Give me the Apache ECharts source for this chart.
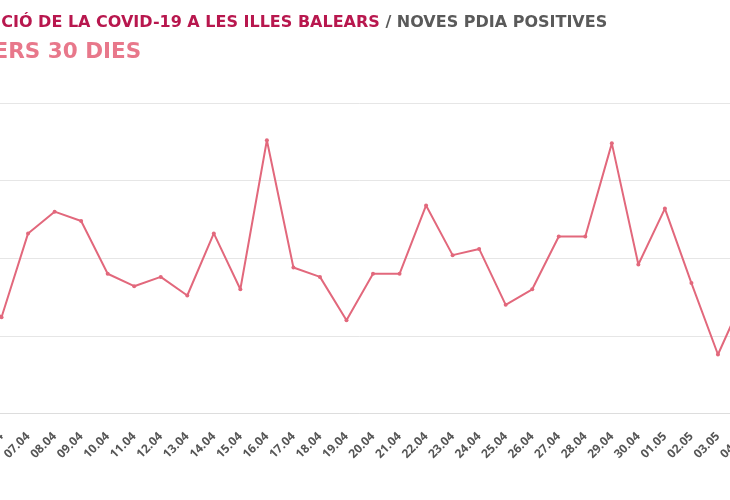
<!DOCTYPE html>
<html>
<head>
<meta charset="utf-8">
<script src="https://cdn.jsdelivr.net/npm/echarts@6/dist/echarts.min.js"></script>
<style>
  html, body { margin: 0; padding: 0; width: 730px; height: 500px; overflow: hidden; background: #fff; }
  #chart { position: absolute; left: -100px; top: 0; width: 860px; height: 500px; }
</style>
</head>
<body>
<div id="chart"></div>
<script>
const titleMain = 'EVOLUCIÓ DE LA COVID-19 A LES ILLES BALEARS';
const titleSeries = '/ NOVES PDIA POSITIVES';
const subtitle = 'DARRERS 30 DIES';
const dates = ['05.04','06.04','07.04','08.04','09.04','10.04','11.04','12.04','13.04','14.04',
  '15.04','16.04','17.04','18.04','19.04','20.04','21.04','22.04','23.04','24.04',
  '25.04','26.04','27.04','28.04','29.04','30.04','01.05','02.05','03.05','04.05'];
const positives = [40, 31, 58, 65, 62, 45, 41, 44, 38, 58,
  40, 88, 47, 44, 30, 45, 45, 67, 51, 53,
  35, 40, 57, 57, 87, 48, 66, 42, 19, 38];
const yTicks = [0, 25, 50, 75, 100];

const TITLE_FONT = '"DejaVu Sans", "Open Sans", sans-serif';
const LABEL_FONT = '"Open Sans", Roboto, sans-serif';

const chart = echarts.init(document.getElementById('chart'), null, { renderer: 'canvas' });
chart.setOption({
  backgroundColor: '#fff',
  animation: false,
  title: [
    {
      left: 42, top: 15, padding: 0,
      text: '{a|' + titleMain + '} {b|' + titleSeries + '}',
      textStyle: {
        fontFamily: TITLE_FONT, fontWeight: 'bold', fontSize: 16,
        rich: {
          a: { color: '#b8174e', fontFamily: TITLE_FONT, fontWeight: 'bold', fontSize: 16 },
          b: { color: '#5a5a5a', fontFamily: TITLE_FONT, fontWeight: 'bold', fontSize: 16 }
        }
      }
    },
    {
      left: 26, top: 41, padding: 0,
      text: subtitle,
      textStyle: { color: '#e8788b', fontFamily: TITLE_FONT, fontWeight: 'bold', fontSize: 21.5 }
    }
  ],
  grid: { left: 75, right: 15.5, top: 103, bottom: 86.5, containLabel: false },
  xAxis: {
    type: 'category',
    data: dates,
    boundaryGap: false,
    axisLine: { lineStyle: { color: '#dddddd', width: 1 } },
    axisTick: { show: false },
    axisLabel: {
      rotate: 45, margin: 21, interval: 0,
      color: '#555555', fontFamily: LABEL_FONT, fontWeight: 'bold', fontSize: 12
    },
    splitLine: { show: false }
  },
  yAxis: {
    type: 'value',
    min: yTicks[0], max: yTicks[yTicks.length - 1], interval: yTicks[1] - yTicks[0],
    axisLine: { show: false },
    axisTick: { show: false },
    axisLabel: { color: '#555555', fontFamily: LABEL_FONT, fontSize: 11 },
    splitLine: { lineStyle: { color: '#e6e6e6', width: 1 } }
  },
  series: [{
    type: 'line',
    name: 'Noves PDIA positives',
    data: positives,
    symbol: 'circle',
    symbolSize: 4,
    lineStyle: { color: '#e2687c', width: 2 },
    itemStyle: { color: '#e2687c' }
  }]
});
</script>
</body>
</html>
